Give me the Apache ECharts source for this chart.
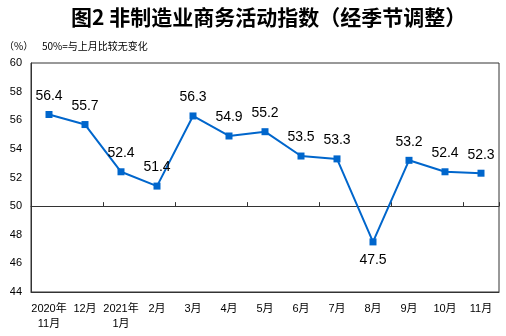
<!DOCTYPE html>
<html>
<head>
<meta charset="utf-8">
<script src="https://cdn.jsdelivr.net/npm/echarts@6/dist/echarts.min.js"></script>
<style>
  html, body { margin: 0; padding: 0; background: #fff; }
  #chart { width: 506px; height: 336px; }
</style>
</head>
<body>
<div id="chart"></div>
<script>
// 非制造业商务活动指数（经季节调整）
const months = ['2020年\n11月', '12月', '2021年\n1月', '2月', '3月', '4月', '5月', '6月', '7月', '8月', '9月', '10月', '11月'];
const indexValues = [56.4, 55.7, 52.4, 51.4, 56.3, 54.9, 55.2, 53.5, 53.3, 47.5, 53.2, 52.4, 52.3];
const yTicks = [44, 46, 48, 50, 52, 54, 56, 58, 60];

const FONT = '"Liberation Sans", Arial, "Noto Sans CJK SC", sans-serif';
const gridTop = 63, gridBottom = 44, chartH = 336;
const plotH = chartH - gridTop - gridBottom;
const yMin = yTicks[0], yMax = yTicks[yTicks.length - 1];
// distance from the bottom edge of the plot up to the 50 line
const fiftyOffset = plotH * (50 - yMin) / (yMax - yMin);

const chart = echarts.init(document.getElementById('chart'), null, { renderer: 'canvas' });
chart.setOption({
  animation: false,
  backgroundColor: '#fff',
  title: {
    text: '图2 非制造业商务活动指数（经季节调整）',
    left: 66,
    top: 2,
    textStyle: { fontSize: 21, fontWeight: 'bold', color: '#000', fontFamily: '"Noto Sans CJK SC", sans-serif' }
  },
  graphic: [
    { type: 'text', left: 4, top: 41, style: { text: '（%）', fontSize: 10, fill: '#000', fontFamily: '"Noto Sans CJK SC", sans-serif' } },
    { type: 'text', left: 42, top: 41, style: { text: '50%=与上月比较无变化', fontSize: 10, fill: '#000', fontFamily: '"Noto Sans CJK SC", sans-serif' } }
  ],
  grid: {
    left: 31, right: 7, top: gridTop, bottom: gridBottom,
    show: true, borderColor: '#333', borderWidth: 1, backgroundColor: 'transparent'
  },
  xAxis: [
    {
      type: 'category',
      data: months,
      boundaryGap: true,
      axisLine: { show: true, lineStyle: { color: '#333', width: 1 } },
      axisTick: { show: false },
      axisLabel: { color: '#000', fontSize: 11, fontFamily: FONT, lineHeight: 15, margin: 9, interval: 0 }
    },
    {
      // reference line at 50 with its category ticks
      type: 'category',
      data: months,
      position: 'bottom',
      offset: -fiftyOffset,
      boundaryGap: true,
      axisLine: { show: true, lineStyle: { color: '#333', width: 1 } },
      axisTick: { show: true, inside: true, length: 4, lineStyle: { color: '#333' } },
      axisLabel: { show: false }
    }
  ],
  yAxis: {
    type: 'value',
    min: yMin, max: yMax, interval: 2,
    axisLine: { show: true, lineStyle: { color: '#333', width: 1 } },
    axisTick: { show: false },
    splitLine: { show: false },
    axisLabel: { color: '#000', fontSize: 11, fontFamily: FONT, margin: 9 }
  },
  series: [{
    type: 'line',
    xAxisIndex: 0,
    symbol: 'rect',
    symbolSize: 7,
    lineStyle: { color: '#0066CC', width: 2 },
    itemStyle: { color: '#0066CC' },
    label: {
      show: true,
      position: 'top',
      distance: 8,
      color: '#000',
      fontSize: 14,
      fontFamily: FONT,
      formatter: p => p.value.toFixed(1)
    },
    labelLayout: { hideOverlap: false },
    data: indexValues.map(v => (v < 50 ? { value: v, label: { position: 'bottom', distance: 8 } } : v))
  }]
});
</script>
</body>
</html>
